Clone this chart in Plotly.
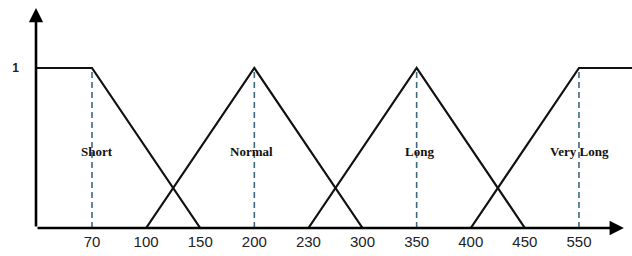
import numpy as np
import plotly.graph_objects as go

# ---- data ----
tick_values = [70, 100, 150, 200, 230, 300, 350, 400, 450, 550]
tick_labels = ["70", "100", "150", "200", "230", "300", "350", "400", "450", "550"]

short_x = [0, 70, 150]
short_y = [1, 1, 0]
normal_x = [100, 200, 300]
normal_y = [0, 1, 0]
long_x = [230, 350, 450]
long_y = [0, 1, 0]
very_long_x = [400, 550, 600]
very_long_y = [0, 1, 1]

set_names = ["Short", "Normal", "Long", "Very Long"]
set_peaks = [70, 200, 350, 550]

# ---- ordinal (piecewise) x scale: ticks evenly spaced ----
X_MIN, X_MAX = 0, 600
scale_domain = [X_MIN] + tick_values + [X_MAX]
scale_pos = [-1.035] + list(range(len(tick_values))) + [9.98]


def sx(v):
    return list(np.interp(v, scale_domain, scale_pos))


fig = go.Figure()

line_style = dict(color="#111111", width=2.2)
for xs, ys in [(short_x, short_y), (normal_x, normal_y), (long_x, long_y), (very_long_x, very_long_y)]:
    fig.add_trace(go.Scatter(x=sx(xs), y=ys, mode="lines", line=line_style,
                             showlegend=False, hoverinfo="skip"))

# dashed verticals at peaks
for p in set_peaks:
    fig.add_trace(go.Scatter(x=sx([p, p]), y=[0, 1], mode="lines",
                             line=dict(color="#3d6a7e", width=1.6, dash="6px,4px"),
                             showlegend=False, hoverinfo="skip"))

# set name labels
label_shift = {"Short": 5, "Normal": -3, "Long": 3, "Very Long": 1}
for name, p in zip(set_names, set_peaks):
    fig.add_annotation(x=sx([p])[0], y=0.48, text=name, showarrow=False,
                       xshift=label_shift[name],
                       font=dict(family="Liberation Serif", size=13, color="#111111", weight="bold"))

# axes with arrows
x0 = scale_pos[0]
fig.add_annotation(x=x0, y=1.375, ax=x0, ay=0, axref="x", ayref="y", xref="x", yref="y",
                   showarrow=True, arrowhead=2, arrowsize=1.1, arrowwidth=2.6,
                   arrowcolor="#000000", text="")
fig.add_annotation(x=9.83, y=0, ax=x0, ay=0, axref="x", ayref="y", xref="x", yref="y",
                   showarrow=True, arrowhead=2, arrowsize=1.1, arrowwidth=2.6,
                   arrowcolor="#000000", text="")

fig.update_layout(
    width=632, height=256,
    margin=dict(l=36, r=0, t=0, b=28, autoexpand=False),
    plot_bgcolor="white", paper_bgcolor="white",
    xaxis=dict(range=[scale_pos[0], scale_pos[-1]], showgrid=False, zeroline=False,
               showline=False, tickmode="array", tickvals=sx(tick_values), ticktext=tick_labels,
               ticks="", ticklabelstandoff=3, automargin=False,
               tickfont=dict(family="Liberation Sans", size=15, color="#222222")),
    yaxis=dict(range=[0, 1.425], showgrid=False, zeroline=False, showline=False,
               tickmode="array", tickvals=[1], ticktext=["1"], ticks="", ticklabelstandoff=16,
               automargin=False,
               tickfont=dict(family="Liberation Sans", size=12, color="#222222", weight="bold")),
)

fig.write_html("out.html", config={"displayModeBar": False},
               post_script="document.body.style.margin='0';")
